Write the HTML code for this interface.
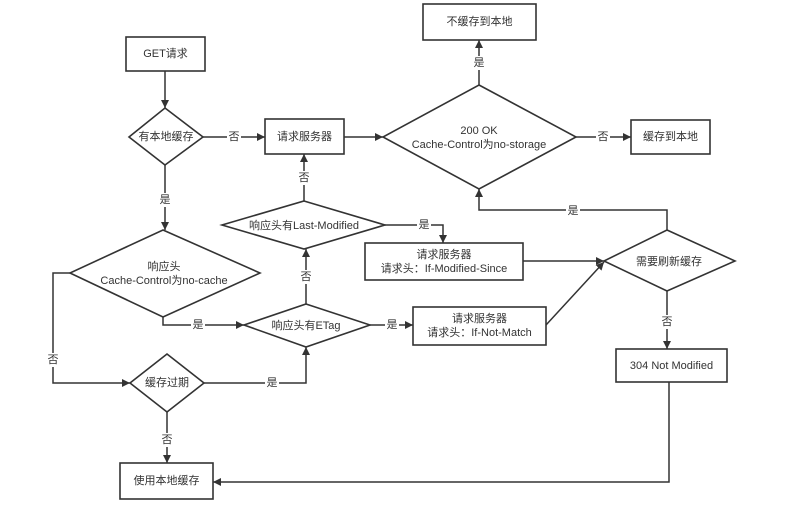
<!DOCTYPE html>
<html><head><meta charset="utf-8"><style>
html,body{margin:0;padding:0;background:#fff;}
svg text{font-family:"Liberation Sans","Noto Sans CJK SC",sans-serif;font-size:11px;fill:#333;text-anchor:middle;dominant-baseline:central;}
.s{fill:#fff;stroke:#333;stroke-width:1.6;}
.l{fill:none;stroke:#333;stroke-width:1.5;}
.lb{fill:#fff;}
</style></head><body>
<svg width="792" height="505" viewBox="0 0 792 505" xmlns="http://www.w3.org/2000/svg">
<defs><marker id="a" viewBox="0 0 10 10" refX="10" refY="5" markerWidth="8" markerHeight="8" orient="auto" markerUnits="userSpaceOnUse"><path d="M0,0L10,5L0,10z" fill="#333"/></marker></defs>
<!-- connectors -->
<path class="l" d="M165,71V108" marker-end="url(#a)"/>
<path class="l" d="M203,137H265" marker-end="url(#a)"/>
<path class="l" d="M165,165V230" marker-end="url(#a)"/>
<path class="l" d="M344,137H383" marker-end="url(#a)"/>
<path class="l" d="M479,85V40" marker-end="url(#a)"/>
<path class="l" d="M576,137H631" marker-end="url(#a)"/>
<path class="l" d="M304,201V154" marker-end="url(#a)"/>
<path class="l" d="M385,225H443V243" marker-end="url(#a)"/>
<path class="l" d="M306,304V249" marker-end="url(#a)"/>
<path class="l" d="M163,317V325H244" marker-end="url(#a)"/>
<path class="l" d="M70,273H53V383H130" marker-end="url(#a)"/>
<path class="l" d="M204,383H306V347" marker-end="url(#a)"/>
<path class="l" d="M167,412V463" marker-end="url(#a)"/>
<path class="l" d="M370,325H413" marker-end="url(#a)"/>
<path class="l" d="M523,261H604" marker-end="url(#a)"/>
<path class="l" d="M546,325L604,262" marker-end="url(#a)"/>
<path class="l" d="M667,230V210H479V189" marker-end="url(#a)"/>
<path class="l" d="M667,291V349" marker-end="url(#a)"/>
<path class="l" d="M669,382V482H213" marker-end="url(#a)"/>
<!-- shapes -->
<rect class="s" x="126" y="37" width="79" height="34"/>
<text x="165.5" y="54">GET请求</text>
<polygon class="s" points="165,108 203,137 165,165 129,137"/>
<text x="166" y="137">有本地缓存</text>
<rect class="s" x="265" y="119" width="79" height="35"/>
<text x="304.5" y="137">请求服务器</text>
<polygon class="s" points="479,85 576,137 479,189 383,137"/>
<text x="479" y="131">200 OK</text>
<text x="479" y="145">Cache-Control为no-storage</text>
<rect class="s" x="423" y="4" width="113" height="36"/>
<text x="479.5" y="22">不缓存到本地</text>
<rect class="s" x="631" y="120" width="79" height="34"/>
<text x="670.5" y="137">缓存到本地</text>
<polygon class="s" points="304,201 385,225 304,249 222,225"/>
<text x="304" y="226">响应头有Last-Modified</text>
<rect class="s" x="365" y="243" width="158" height="37"/>
<text x="444" y="255">请求服务器</text>
<text x="444" y="269">请求头：If-Modified-Since</text>
<polygon class="s" points="667,230 735,261 667,291 604,261"/>
<text x="669" y="262">需要刷新缓存</text>
<polygon class="s" points="163,230 260,273 163,317 70,273"/>
<text x="164" y="267">响应头</text>
<text x="164" y="281">Cache-Control为no-cache</text>
<polygon class="s" points="306,304 370,325 306,347 244,325"/>
<text x="306" y="326">响应头有ETag</text>
<rect class="s" x="413" y="307" width="133" height="38"/>
<text x="479.5" y="319">请求服务器</text>
<text x="479.5" y="333">请求头：If-Not-Match</text>
<rect class="s" x="616" y="349" width="111" height="33"/>
<text x="671.5" y="366">304 Not Modified</text>
<polygon class="s" points="167,354 204,383 167,412 130,383"/>
<text x="167" y="383">缓存过期</text>
<rect class="s" x="120" y="463" width="93" height="36"/>
<text x="166.5" y="481">使用本地缓存</text>
<!-- labels -->
<rect class="lb" x="227" y="130" width="14" height="14"/><text x="234" y="137">否</text>
<rect class="lb" x="158" y="193" width="14" height="14"/><text x="165" y="200">是</text>
<rect class="lb" x="472" y="56" width="14" height="14"/><text x="479" y="63">是</text>
<rect class="lb" x="596" y="130" width="14" height="14"/><text x="603" y="137">否</text>
<rect class="lb" x="297" y="171" width="14" height="14"/><text x="304" y="178">否</text>
<rect class="lb" x="417" y="218" width="14" height="14"/><text x="424" y="225">是</text>
<rect class="lb" x="299" y="270" width="14" height="14"/><text x="306" y="277">否</text>
<rect class="lb" x="191" y="318" width="14" height="14"/><text x="198" y="325">是</text>
<rect class="lb" x="46" y="353" width="14" height="14"/><text x="53" y="360">否</text>
<rect class="lb" x="265" y="376" width="14" height="14"/><text x="272" y="383">是</text>
<rect class="lb" x="160" y="433" width="14" height="14"/><text x="167" y="440">否</text>
<rect class="lb" x="385" y="318" width="14" height="14"/><text x="392" y="325">是</text>
<rect class="lb" x="566" y="204" width="14" height="14"/><text x="573" y="211">是</text>
<rect class="lb" x="660" y="315" width="14" height="14"/><text x="667" y="322">否</text>
</svg>
</body></html>
